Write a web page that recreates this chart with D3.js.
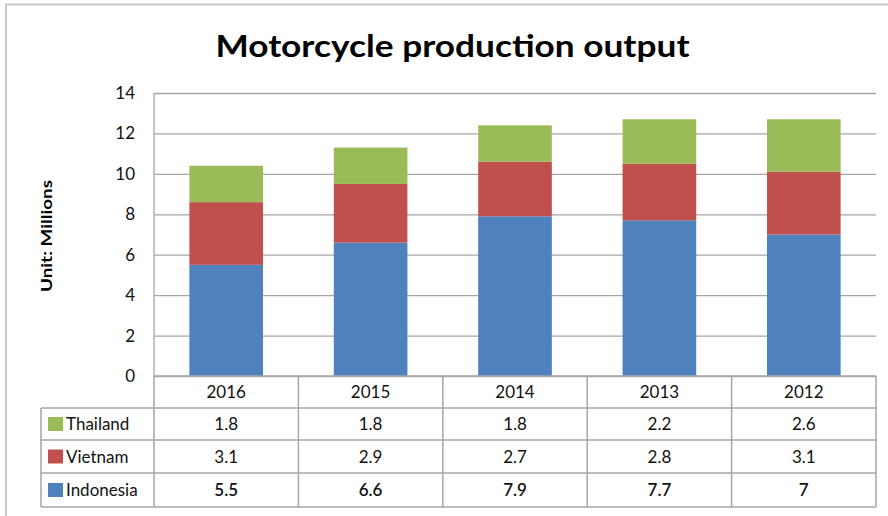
<!DOCTYPE html>
<html>
<head>
<meta charset="utf-8">
<script src="https://cdn.jsdelivr.net/npm/d3@7"></script>
<style>
  html, body { margin: 0; padding: 0; background: #fff; }
  svg { display: block; font-family: Lato, "Open Sans", sans-serif; }
</style>
</head>
<body>
<svg id="chart" width="888" height="516"></svg>
<script>
const years = ["2016", "2015", "2014", "2013", "2012"];
const seriesNames = ["Indonesia", "Vietnam", "Thailand"];
const indonesia = [5.5, 6.6, 7.9, 7.7, 7];
const vietnam = [3.1, 2.9, 2.7, 2.8, 3.1];
const thailand = [1.8, 1.8, 1.8, 2.2, 2.6];
const yTicks = [0, 2, 4, 6, 8, 10, 12, 14];
const colors = { Indonesia: "#4F81BD", Vietnam: "#C0504D", Thailand: "#9BBB59" };

const svg = d3.select("#chart");
const plot = { left: 154, right: 876, top: 93, bottom: 376 };
const fs = 17;

// outer chart border
svg.append("rect").attr("x", 6).attr("y", 4.5).attr("width", 900).attr("height", 530)
  .attr("fill", "#fff").attr("stroke", "#C8C8C8").attr("stroke-width", 2);

// title
svg.append("text").attr("x", 452.5).attr("y", 57).attr("text-anchor", "middle")
  .attr("font-size", 30).attr("font-weight", "bold").attr("fill", "#000")
  .attr("textLength", 474).attr("lengthAdjust", "spacingAndGlyphs")
  .text("Motorcycle production output");

const rows = years.map((y, i) => ({ year: y, Indonesia: indonesia[i], Vietnam: vietnam[i], Thailand: thailand[i] }));

const x = d3.scaleBand().domain(years).range([plot.left, plot.right]).paddingInner(0.49).paddingOuter(0.245);
const col = d3.scaleBand().domain(years).range([plot.left, plot.right]).padding(0);
const y = d3.scaleLinear().domain([0, 14]).range([plot.bottom, plot.top]);

// gridlines + y axis labels
const yAxis = svg.append("g").attr("transform", `translate(${plot.left},0)`)
  .call(d3.axisLeft(y).tickValues(yTicks).tickSize(-(plot.right - plot.left)).tickPadding(19).tickFormat(d3.format("d")));
yAxis.select(".domain").remove();
yAxis.selectAll(".tick line").attr("stroke", "#A6A6A6").attr("stroke-width", 1.3);
yAxis.selectAll(".tick text").attr("font-size", fs).attr("fill", "#111").attr("font-family", "Lato, sans-serif");

// y axis title
svg.append("text").attr("transform", "translate(52,236) rotate(-90)").attr("text-anchor", "middle")
  .attr("font-size", 16).attr("font-weight", "bold").attr("fill", "#000")
  .attr("textLength", 112).attr("lengthAdjust", "spacingAndGlyphs")
  .text("Unit: Millions");

// stacked bars
const stack = d3.stack().keys(seriesNames)(rows);
svg.append("g").selectAll("g").data(stack).join("g")
  .attr("fill", d => colors[d.key])
  .selectAll("rect").data(d => d).join("rect")
  .attr("x", d => x(d.data.year))
  .attr("width", x.bandwidth())
  .attr("y", d => y(d[1]))
  .attr("height", d => y(d[0]) - y(d[1]));

// left axis line
const lineColor = "#A6A6A6";
svg.append("line").attr("x1", plot.left).attr("x2", plot.left).attr("y1", plot.top).attr("y2", plot.bottom)
  .attr("stroke", lineColor).attr("stroke-width", 1.3);

// data table
const rowEdges = [376, 408, 440, 473, 507];
const tableLeft = 41;
const tbl = svg.append("g");
tbl.append("line").attr("x1", plot.left).attr("x2", plot.right).attr("y1", rowEdges[0]).attr("y2", rowEdges[0])
  .attr("stroke", lineColor).attr("stroke-width", 1.5);
rowEdges.slice(1).forEach(e => {
  tbl.append("line").attr("x1", tableLeft).attr("x2", plot.right).attr("y1", e).attr("y2", e)
    .attr("stroke", lineColor).attr("stroke-width", 1.5);
});
tbl.append("line").attr("x1", tableLeft).attr("x2", tableLeft).attr("y1", rowEdges[1]).attr("y2", rowEdges[4])
  .attr("stroke", lineColor).attr("stroke-width", 1.5);
years.forEach(yr => {
  tbl.append("line").attr("x1", col(yr)).attr("x2", col(yr)).attr("y1", rowEdges[0]).attr("y2", rowEdges[4])
    .attr("stroke", lineColor).attr("stroke-width", 1.5);
});
tbl.append("line").attr("x1", plot.right).attr("x2", plot.right).attr("y1", rowEdges[0]).attr("y2", rowEdges[4])
  .attr("stroke", lineColor).attr("stroke-width", 1.5);

// header years
tbl.selectAll("text.year").data(years).join("text").attr("class", "year")
  .attr("x", d => col(d) + col.bandwidth() / 2).attr("y", (rowEdges[0] + rowEdges[1]) / 2 + 6)
  .attr("text-anchor", "middle").attr("font-size", fs).attr("fill", "#111").text(d => d);

const tableRows = [
  { name: "Thailand", values: thailand },
  { name: "Vietnam", values: vietnam },
  { name: "Indonesia", values: indonesia }
];
tableRows.forEach((r, i) => {
  const cy = (rowEdges[i + 1] + rowEdges[i + 2]) / 2;
  tbl.append("rect").attr("x", 48).attr("y", cy - 7).attr("width", 15).attr("height", 14).attr("fill", colors[r.name]);
  tbl.append("text").attr("x", 66).attr("y", cy + 6).attr("font-size", fs).attr("fill", "#111").text(r.name);
  years.forEach((yr, j) => {
    tbl.append("text").attr("x", col(yr) + col.bandwidth() / 2).attr("y", cy + 6)
      .attr("text-anchor", "middle").attr("font-size", fs).attr("fill", "#111")
      .attr("font-weight", r.name === "Indonesia" ? 600 : "normal")
      .text(String(r.values[j]));
  });
});
</script>
</body>
</html>
